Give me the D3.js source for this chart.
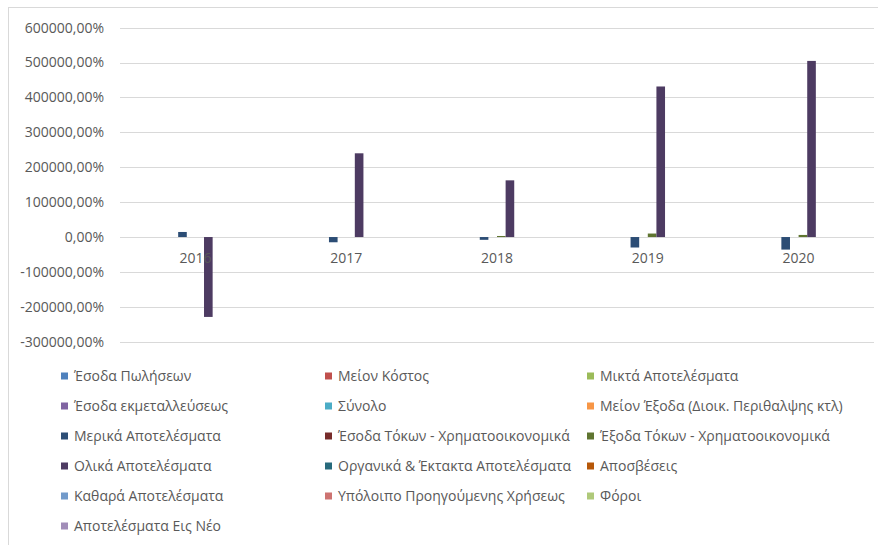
<!DOCTYPE html>
<html>
<head>
<meta charset="utf-8">
<script src="https://cdn.jsdelivr.net/npm/d3@7"></script>
<style>
    body { margin: 0; background: #fff; }
    svg { display: block; font-family: "Open Sans", sans-serif; }
    .grid line { stroke: #d9d9d9; stroke-width: 1; }
    .ylab, .xlab, .legend text { fill: #595959; }
</style>
</head>
<body>
<div id="chart"></div>
<script>
// Years on the x axis
const years = ['2016', '2017', '2018', '2019', '2020']

// Series, in legend order
const seriesNames = [
    'Έσοδα Πωλήσεων', 'Μείον Κόστος', 'Μικτά Αποτελέσματα',
    'Έσοδα εκμεταλλεύσεως', 'Σύνολο', 'Μείον Έξοδα (Διοικ. Περιθαλψης κτλ)',
    'Μερικά Αποτελέσματα', 'Έσοδα Τόκων - Χρηματοοικονομικά', 'Έξοδα Τόκων - Χρηματοοικονομικά',
    'Ολικά Αποτελέσματα', 'Οργανικά & Έκτακτα Αποτελέσματα', 'Αποσβέσεις',
    'Καθαρά Αποτελέσματα', 'Υπόλοιπο Προηγούμενης Χρήσεως', 'Φόροι',
    'Αποτελέσματα Εις Νέο'
]
const seriesColors = [
    '#4f81bd', '#c0504d', '#9bbb59',
    '#8064a2', '#4bacc6', '#f79646',
    '#2c4d75', '#772c2a', '#5f7530',
    '#4d3b62', '#276a7c', '#b65708',
    '#729aca', '#cd7371', '#afc97a',
    '#a18db8'
]

// values in percent, one per year
const esodaPoliseon      = [0, 0, 0, 0, 0]
const meionKostos        = [0, 0, 0, 0, 0]
const miktaApot          = [0, 0, 0, 0, 0]
const esodaEkmet         = [0, 0, 0, 0, 0]
const synolo             = [0, 0, 0, 0, 0]
const meionExoda         = [0, 0, 0, 0, 0]
const merikaApot         = [14500, -15000, -8000, -30000, -36000]
const esodaTokon         = [0, 0, 0, 0, 0]
const exodaTokon         = [0, 0, 3000, 10000, 6000]
const olikaApot          = [-229000, 240000, 162500, 431500, 504800]
const organikaApot       = [0, 0, 0, 0, 0]
const aposveseis         = [0, 0, 0, 0, 0]
const katharaApot        = [0, 0, 0, 0, 0]
const ypoloipo           = [0, 0, 0, 0, 0]
const foroi              = [0, 0, 0, 0, 0]
const apotEisNeo         = [0, 0, 0, 0, 0]

const yTicks = [-300000, -200000, -100000, 0, 100000, 200000, 300000, 400000, 500000, 600000]

const seriesValues = [
    esodaPoliseon, meionKostos, miktaApot, esodaEkmet, synolo, meionExoda,
    merikaApot, esodaTokon, exodaTokon, olikaApot, organikaApot, aposveseis,
    katharaApot, ypoloipo, foroi, apotEisNeo
]

const locale = d3.formatLocale({decimal: ',', thousands: '.', grouping: [3], currency: ['', '€'], minus: '-'})
const pctFmt = v => locale.format('.2f')(v) + '%'

const W = 878, H = 545
const plot = {left: 120, right: 874, top: 27.7, bottom: 341.7}

const svg = d3.select('#chart').append('svg')
    .attr('width', W)
    .attr('height', H)

// chart area border
svg.append('rect')
    .attr('x', 8.5)
    .attr('y', 7.5)
    .attr('width', W)
    .attr('height', H)
    .attr('fill', 'none')
    .attr('stroke', '#d9d9d9')

let x = d3.scaleBand()
    .domain(years)
    .range([plot.left, plot.right])

let xs = d3.scaleBand()
    .domain(d3.range(seriesNames.length))
    .range([0, x.bandwidth()])
    .paddingOuter(0.75)

let y = d3.scaleLinear()
    .domain([-300000, 600000])
    .range([plot.bottom, plot.top])

// gridlines
svg.append('g')
    .attr('class', 'grid')
    .selectAll('line')
    .data(yTicks)
    .join('line')
      .attr('x1', plot.left)
      .attr('x2', plot.right)
      .attr('y1', d => Math.round(y(d)) + 0.5)
      .attr('y2', d => Math.round(y(d)) + 0.5)

// y labels
svg.append('g')
    .selectAll('text')
    .data(yTicks)
    .join('text')
      .attr('class', 'ylab')
      .attr('x', 104)
      .attr('y', d => y(d))
      .attr('dy', '0.35em')
      .attr('text-anchor', 'end')
      .style('font-size', '14px')
      .text(pctFmt)

// bars
const groups = svg.append('g')
    .selectAll('g')
    .data(seriesValues)
    .join('g')
      .attr('fill', (d, i) => seriesColors[i])

groups.selectAll('rect')
    .data((vals, si) => vals.map((v, yi) => ({si, year: years[yi], v})))
    .join('rect')
      .attr('x', d => x(d.year) + xs(d.si))
      .attr('width', xs.bandwidth())
      .attr('y', d => y(Math.max(0, d.v)))
      .attr('height', d => Math.abs(y(d.v) - y(0)))

// x labels, at the zero line
svg.append('g')
    .selectAll('text')
    .data(years)
    .join('text')
      .attr('class', 'xlab')
      .attr('x', d => x(d) + x.bandwidth() / 2)
      .attr('y', y(0) + 26)
      .attr('text-anchor', 'middle')
      .style('font-size', '14px')
      .text(d => d)

// legend, 3 columns
const legCols = [61, 325, 587]
const legend = svg.append('g')
    .attr('class', 'legend')
    .selectAll('g')
    .data(seriesNames)
    .join('g')
      .attr('transform', (d, i) => `translate(${legCols[i % 3]},${376 + Math.floor(i / 3) * 30})`)

legend.append('rect')
    .attr('x', 0)
    .attr('y', -3.5)
    .attr('width', 7)
    .attr('height', 7)
    .attr('fill', (d, i) => seriesColors[i])

legend.append('text')
    .attr('x', 13)
    .attr('dy', '0.35em')
    .style('font-size', '14px')
    .text(d => d)
</script>
</body>
</html>
